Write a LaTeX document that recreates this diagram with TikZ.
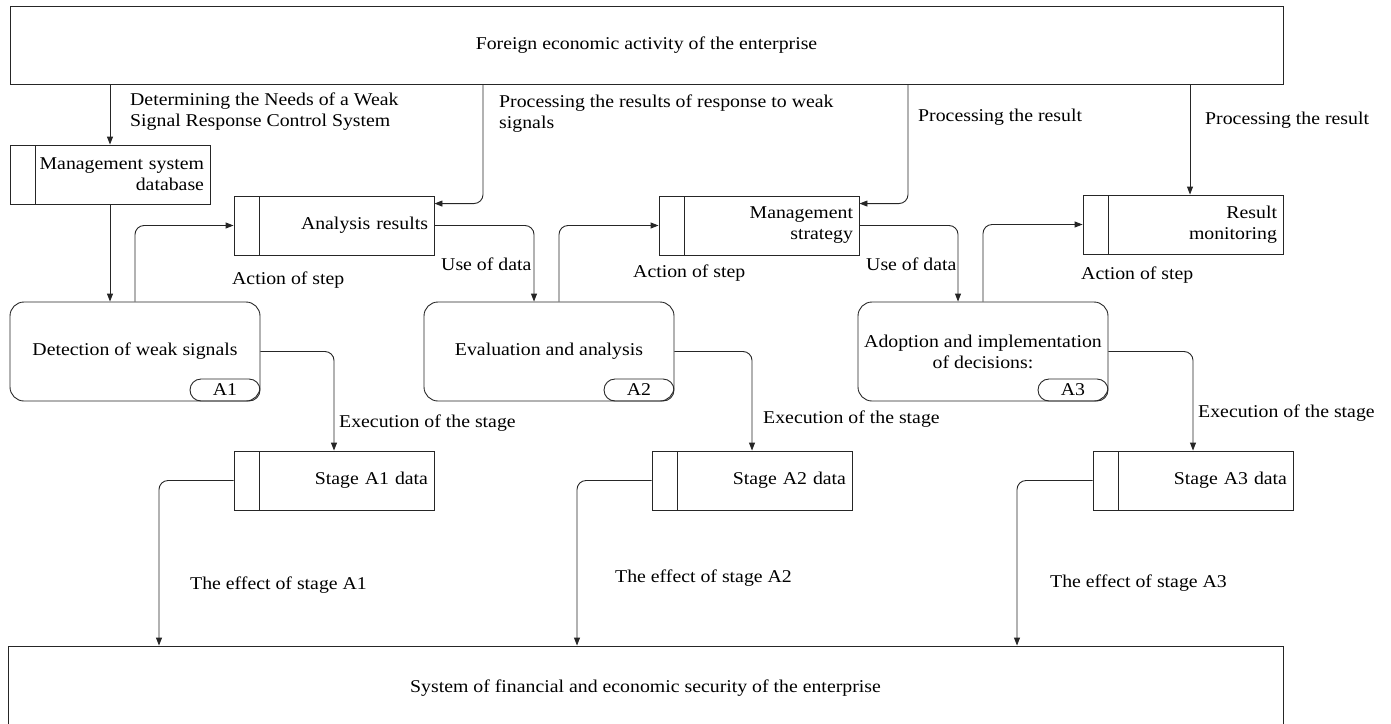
\documentclass[tikz,border=0pt]{standalone}
\usepackage{fontspec}
\setmainfont{Liberation Serif}[FakeStretch=1.1]
\usetikzlibrary{arrows.meta,calc}
\begin{document}
\begin{tikzpicture}[x=1pt,y=-1pt,
  font=\fontsize{18}{21}\selectfont,
  line/.style={draw=black!85, line width=0.9pt},
  arr/.style={line, -{Triangle[length=8pt,width=6pt]}, rounded corners=9pt},
  bigbox/.style={line, rectangle, inner sep=0pt},
  store/.style={line, rectangle, minimum width=200pt, minimum height=59pt,
    text width=188pt, align=right, inner xsep=6pt, inner ysep=0pt,
    path picture={\draw[line] ([xshift=25pt]path picture bounding box.north west) -- ([xshift=25pt]path picture bounding box.south west);}},
  proc/.style={line, rounded corners=14pt, minimum width=250pt, minimum height=99pt, align=center, inner sep=0pt},
  tabbox/.style={line, rounded corners=11pt, minimum width=70pt, minimum height=22pt, inner sep=0pt},
  lab/.style={anchor=west, align=left, inner sep=0pt}
]
\useasboundingbox (0,0) rectangle (1391,723);

% big boxes
\node[bigbox, minimum width=1273pt, minimum height=78pt] (top) at (646.5,45) {Foreign economic activity of the enterprise};
\node[bigbox, minimum width=1275pt, minimum height=84pt] (bot) at (645.5,688) {System of financial and economic security of the enterprise};

% stores
\node[store] (db) at (110,174.5) {Management system\\database};
\node[store] (ar) at (334,225.5) {Analysis results};
\node[store] (ms) at (759,225.5) {Management\\strategy};
\node[store] (rm) at (1183,224.5) {Result\\monitoring};
\node[store] (s1) at (334,480.5) {Stage A1 data};
\node[store] (s2) at (752,480.5) {Stage A2 data};
\node[store] (s3) at (1193,480.5) {Stage A3 data};

% processes
\node[proc] (p1) at (135,351.5) {Detection of weak signals};
\node[proc] (p2) at (549,351.5) {Evaluation and analysis};
\node[proc] (p3) at (983,351.5) {Adoption and implementation\\of decisions:};
\node[tabbox, anchor=south east] (t1) at (p1.south east) {A1};
\node[tabbox, anchor=south east] (t2) at (p2.south east) {A2};
\node[tabbox, anchor=south east] (t3) at (p3.south east) {A3};

% bend coordinates
\coordinate (c3) at (483,0);
\coordinate (c4) at (908,0);
\coordinate (c5) at (1190,0);
\coordinate (c6) at (534,0);
\coordinate (c8) at (559,0);
\coordinate (c9) at (958,0);
\coordinate (c14) at (159,0);
\coordinate (c15) at (577,0);
\coordinate (c16) at (1017,0);

% connectors
\draw[arr] (top.south -| db.north) -- (db.north);
\draw[arr] (db.south) -- (db.south |- p1.north);
\draw[arr] (top.south -| c3) |- ([yshift=-8pt]ar.north east);
\draw[arr] (top.south -| c4) |- ([yshift=-8pt]ms.north east);
\draw[arr] (top.south -| c5) -- (rm.north -| c5);
\draw[arr] (ar.east) -| (p2.north -| c6);
\draw[arr] (p1.north) |- (ar.west);
\draw[arr] (p2.north -| c8) |- (ms.west);
\draw[arr] (ms.east) -| (p3.north -| c9);
\draw[arr] (p3.north) |- (rm.west);
\draw[arr] (p1.east) -| (s1.north);
\draw[arr] (p2.east) -| (s2.north);
\draw[arr] (p3.east) -| (s3.north);
\draw[arr] (s1.west) -| (bot.north -| c14);
\draw[arr] (s2.west) -| (bot.north -| c15);
\draw[arr] (s3.west) -| (bot.north -| c16);

% labels
\node[lab] (l1) at (130,111.5) {Determining the Needs of a Weak\\Signal Response Control System};
\node[lab] (l2) at (499,114) {Processing the results of response to weak\\signals};
\node[lab] (l3) at (918,117) {Processing the result};
\node[lab] (l4) at (1205,120) {Processing the result};
\node[lab] (u1) at (441,264) {Use of data};
\node[lab] (u2) at (866,264) {Use of data};
\node[lab] (a1) at (232,280) {Action of step};
\node[lab] (a2) at (633,273) {Action of step};
\node[lab] (a3) at (1081,275) {Action of step};
\node[lab] (e1) at (339,423) {Execution of the stage};
\node[lab] (e2) at (763,419) {Execution of the stage};
\node[lab] (e3) at (1198,413) {Execution of the stage};
\node[lab] (f1) at (190,585) {The effect of stage A1};
\node[lab] (f2) at (615,578) {The effect of stage A2};
\node[lab] (f3) at (1050,583) {The effect of stage A3};
\end{tikzpicture}
\end{document}
